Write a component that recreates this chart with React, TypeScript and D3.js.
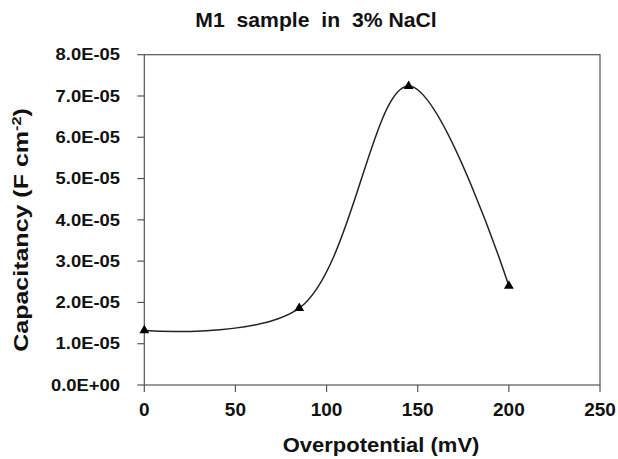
import React from "react";
import * as d3 from "d3";

const overpotential = [0, 85, 145, 200];
const capacitance = [1.32e-5, 1.86e-5, 7.24e-5, 2.4e-5];
const xTicks = [0, 50, 100, 150, 200, 250];
const yTicks = [0, 1e-5, 2e-5, 3e-5, 4e-5, 5e-5, 6e-5, 7e-5, 8e-5];
const title = "M1  sample  in  3% NaCl";
const xLabel = "Overpotential (mV)";

function fmtExp(v: number): string {
  const [m, e] = v.toExponential(1).split("e");
  const n = parseInt(e, 10);
  const sign = n < 0 ? "-" : "+";
  return `${m}E${sign}${String(Math.abs(n)).padStart(2, "0")}`;
}

export default function App() {
  const W = 618, H = 459;
  const left = 144.3, right = 600, top = 54.7, bottom = 385;
  const x = d3.scaleLinear().domain([0, 250]).range([left, right]);
  const y = d3.scaleLinear().domain([0, 8e-5]).range([bottom, top]);
  const pts: [number, number][] = overpotential.map((d, i) => [x(d), y(capacitance[i])]);
  const line = d3.line().curve(d3.curveCatmullRom.alpha(0.5))(pts) || "";
  const font = "'Liberation Sans', Arial, sans-serif";
  const tri = d3.symbol().type(d3.symbolTriangle).size(42)() || "";

  return (
    <svg width={W} height={H} style={{ position: "absolute", left: 0, top: 0, background: "#fff" }}
      fontFamily={font} fontWeight="bold">
      <rect width={W} height={H} fill="#fff" />
      <text transform="translate(316,27) scale(1.06,1)" textAnchor="middle" fontSize={20} style={{ whiteSpace: "pre" }} fill="#111">
        {title}
      </text>
      <rect x={left} y={top} width={right - left} height={bottom - top} fill="none" stroke="#555" strokeWidth={1.2} />
      {yTicks.map((t) => (
        <g key={"y" + t}>
          <line x1={left - 7} x2={left} y1={y(t)} y2={y(t)} stroke="#555" strokeWidth={1.2} />
          <text transform={`translate(120,${y(t) + 5.7}) scale(1.15,1)`} textAnchor="end" fontSize={16} fill="#111">
            {fmtExp(t)}
          </text>
        </g>
      ))}
      {xTicks.map((t) => (
        <g key={"x" + t}>
          <line x1={x(t)} x2={x(t)} y1={bottom} y2={bottom + 7} stroke="#555" strokeWidth={1.2} />
          <text x={x(t)} y={416} textAnchor="middle" fontSize={19} fill="#111">
            {t}
          </text>
        </g>
      ))}
      <text transform="translate(381,451.5) scale(1.1,1)" textAnchor="middle" fontSize={20} fill="#111">
        {xLabel}
      </text>
      <text transform="translate(28,230) rotate(-90) scale(1.25,1)" textAnchor="middle" fontSize={20} fill="#111">
        Capacitancy (F cm<tspan dy="-7" fontSize={13}>-2</tspan><tspan dy="7">)</tspan>
      </text>
      <path d={line} fill="none" stroke="#222" strokeWidth={1.5} />
      {pts.map((p, i) => (
        <path key={i} d={tri} transform={`translate(${p[0]},${p[1]})`} fill="#000" />
      ))}
    </svg>
  );
}
